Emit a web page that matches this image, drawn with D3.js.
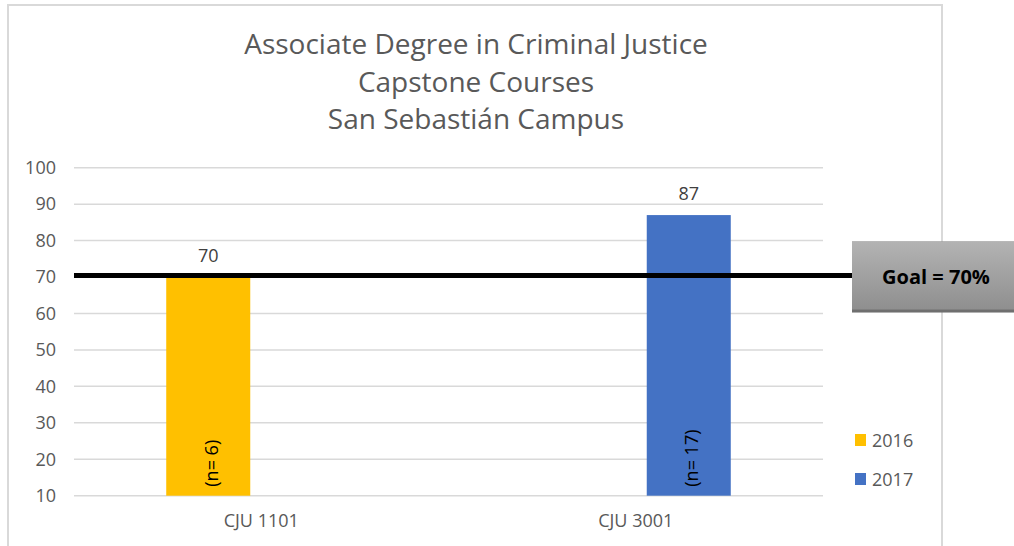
<!DOCTYPE html>
<html>
<head>
<meta charset="utf-8">
<script src="https://cdn.jsdelivr.net/npm/d3@7"></script>
<style>
  html, body { margin: 0; padding: 0; background: #fff; }
  svg { display: block; font-family: "Open Sans", sans-serif; }
</style>
</head>
<body>
<svg id="chart" width="1014" height="546"></svg>
<script>
// Chart data
const titleLines = ["Associate Degree in Criminal Justice", "Capstone Courses", "San Sebastián Campus"];
const courses = ["CJU 1101", "CJU 3001"];
const seriesNames = ["2016", "2017"];
const values2016 = [70, null];
const values2017 = [null, 87];
const counts2016 = [6, null];
const counts2017 = [null, 17];
const seriesColors = ["#FFC000", "#4472C4"];
const yTicks = [10, 20, 30, 40, 50, 60, 70, 80, 90, 100];
const goalValue = 70;
const goalLabel = "Goal = 70%";

const svg = d3.select("#chart");
const FONT = "'Open Sans', sans-serif";

// Gradient for the goal callout
const defs = svg.append("defs");
const grad = defs.append("linearGradient").attr("id", "goalGrad")
  .attr("x1", 0).attr("y1", 0).attr("x2", 0).attr("y2", 1);
grad.append("stop").attr("offset", "0%").attr("stop-color", "#b3b3b3");
grad.append("stop").attr("offset", "100%").attr("stop-color", "#8f8f8f");

// Chart frame
svg.append("rect")
  .attr("x", 8).attr("y", 5).attr("width", 934).attr("height", 560)
  .attr("fill", "none").attr("stroke", "#d9d9d9").attr("stroke-width", 2);

// Title
svg.append("g").selectAll("text").data(titleLines).join("text")
  .attr("x", 476).attr("y", (d, i) => 54 + i * 37.5)
  .attr("text-anchor", "middle")
  .attr("fill", "#595959")
  .attr("font-size", 28)
  .attr("font-weight", 400)
  .text(d => d);

const plot = { left: 74, right: 823 };
const y = d3.scaleLinear().domain([10, 100]).range([495.7, 167.7]);
const x0 = d3.scaleBand().domain(courses).range([plot.left, plot.right]).padding(0);
const x1 = d3.scaleBand().domain(seriesNames).range([0, x0.bandwidth()])
  .paddingInner(0.2075).paddingOuter(0.87);

// Gridlines
svg.append("g").selectAll("line").data(yTicks).join("line")
  .attr("x1", plot.left).attr("x2", plot.right)
  .attr("y1", d => y(d)).attr("y2", d => y(d))
  .attr("stroke", "#d9d9d9").attr("stroke-width", 1.5);

// Y axis labels
const yAxis = d3.axisLeft(y).tickValues(yTicks).tickSize(0).tickPadding(0);
const yg = svg.append("g").attr("transform", "translate(56,0)").call(yAxis)
  .attr("font-family", FONT).attr("font-size", 18);
yg.select(".domain").remove();
yg.selectAll("text").attr("fill", "#595959");

// X axis labels
const xAxis = d3.axisBottom(x0).tickSize(0).tickPadding(0);
const xg = svg.append("g").attr("transform", "translate(0,514)").call(xAxis)
  .attr("font-family", FONT).attr("font-size", 18);
xg.select(".domain").remove();
xg.selectAll("text").attr("fill", "#595959");

// Bars
const rows = [];
courses.forEach((c, i) => {
  [values2016, values2017].forEach((vals, s) => {
    const counts = s === 0 ? counts2016 : counts2017;
    if (vals[i] != null) rows.push({ course: c, series: seriesNames[s], value: vals[i], n: counts[i], color: seriesColors[s] });
  });
});

const bars = svg.append("g");
bars.selectAll("rect").data(rows).join("rect")
  .attr("x", d => x0(d.course) + x1(d.series))
  .attr("width", x1.bandwidth())
  .attr("y", d => y(d.value))
  .attr("height", d => y(10) - y(d.value))
  .attr("fill", d => d.color);

// Value labels
bars.selectAll("text.val").data(rows).join("text").attr("class", "val")
  .attr("x", d => x0(d.course) + x1(d.series) + x1.bandwidth() / 2)
  .attr("y", d => y(d.value) - 15)
  .attr("text-anchor", "middle")
  .attr("fill", "#404040").attr("font-size", 18)
  .text(d => d.value);

// Sample size labels, rotated inside bars
bars.selectAll("text.n").data(rows).join("text").attr("class", "n")
  .attr("transform", d => `translate(${x0(d.course) + x1(d.series) + x1.bandwidth() / 2 + 3},${y(10) - 9}) rotate(-90)`)
  .attr("dy", "0.35em")
  .attr("fill", "#000").attr("font-size", 18)
  .text(d => `(n= ${d.n})`);

// Goal line
svg.append("line")
  .attr("x1", plot.left).attr("x2", 860)
  .attr("y1", y(goalValue) - 1.5).attr("y2", y(goalValue) - 1.5)
  .attr("stroke", "#000").attr("stroke-width", 5);

// Goal callout box
const gy = y(goalValue) - 1.5;
svg.append("rect").attr("x", 852).attr("y", gy - 34).attr("width", 170).attr("height", 71)
  .attr("fill", "#6f6f6f");
svg.append("rect").attr("x", 852).attr("y", gy - 34).attr("width", 170).attr("height", 68)
  .attr("fill", "url(#goalGrad)");
svg.append("text").attr("x", 936).attr("y", gy + 8)
  .attr("text-anchor", "middle").attr("font-weight", 700).attr("font-size", 20)
  .attr("fill", "#000").text(goalLabel);

// Legend
const legend = svg.append("g").selectAll("g").data(seriesNames).join("g")
  .attr("transform", (d, i) => `translate(855,${434 + i * 39})`);
legend.append("rect").attr("width", 11).attr("height", 12).attr("fill", (d, i) => seriesColors[i]);
legend.append("text").attr("x", 17).attr("y", 13)
  .attr("fill", "#595959").attr("font-size", 18).text(d => d);
</script>
</body>
</html>
